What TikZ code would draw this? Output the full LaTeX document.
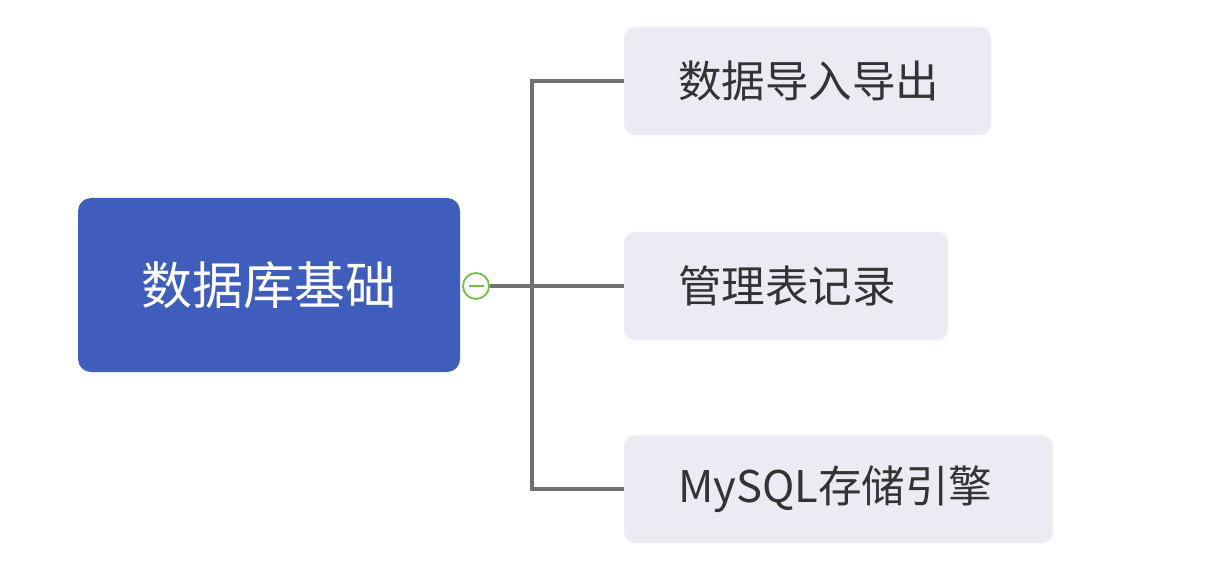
\documentclass[tikz,border=0pt]{standalone}
\usepackage{fontspec}
\setmainfont{Noto Sans CJK SC}
\begin{document}
\begin{tikzpicture}[
  rootbox/.style={fill=rootblue, rounded corners=0.26cm, minimum width=7.64cm, minimum height=3.48cm, text=white, font=\fontsize{29}{32}\selectfont, inner sep=0pt},
  childbox/.style={fill=childgray, rounded corners=0.22cm, minimum height=2.16cm, inner xsep=1.08cm, inner ysep=0pt, align=left, text=textdark, font=\fontsize{24.8}{28}\selectfont},
  conn/.style={draw=linegray, line width=2pt},
  toggle/.style={circle, draw=togglegreen, fill=white, line width=1pt, minimum size=0.52cm, inner sep=0pt}
]
\definecolor{rootblue}{HTML}{3F5DBA}
\definecolor{childgray}{HTML}{EBEBF3}
\definecolor{textdark}{HTML}{333333}
\definecolor{linegray}{HTML}{707070}
\definecolor{togglegreen}{HTML}{6DBE45}
\useasboundingbox (0,0) rectangle (24.2,-11.7);
\fill[white] (0,0) rectangle (24.2,-11.7);

\node[rootbox] (root) at (5.38,-5.70) {数据库基础};
\node[childbox, text width=5.18cm] (b1) at (16.15,-1.62) {数据导入导出};
\node[childbox, text width=4.32cm] (b2) at (15.72,-5.72) {管理表记录};
\node[childbox, text width=6.42cm] (b3) at (16.77,-9.78) {MySQL存储引擎};

\coordinate (trunk) at (10.64,-5.72);
\node[toggle] (tog) at (9.52,-5.72) {};

\draw[conn, line width=2.6pt] (tog.east) -- (trunk);
\draw[conn] (trunk) |- (b1.west);
\draw[conn] (trunk) |- (b3.west);
\draw[conn] (trunk) -- (b2.west);
\draw[togglegreen, line width=1.2pt] ([xshift=-0.15cm]tog.center) -- ([xshift=0.15cm]tog.center);
\end{tikzpicture}
\end{document}
